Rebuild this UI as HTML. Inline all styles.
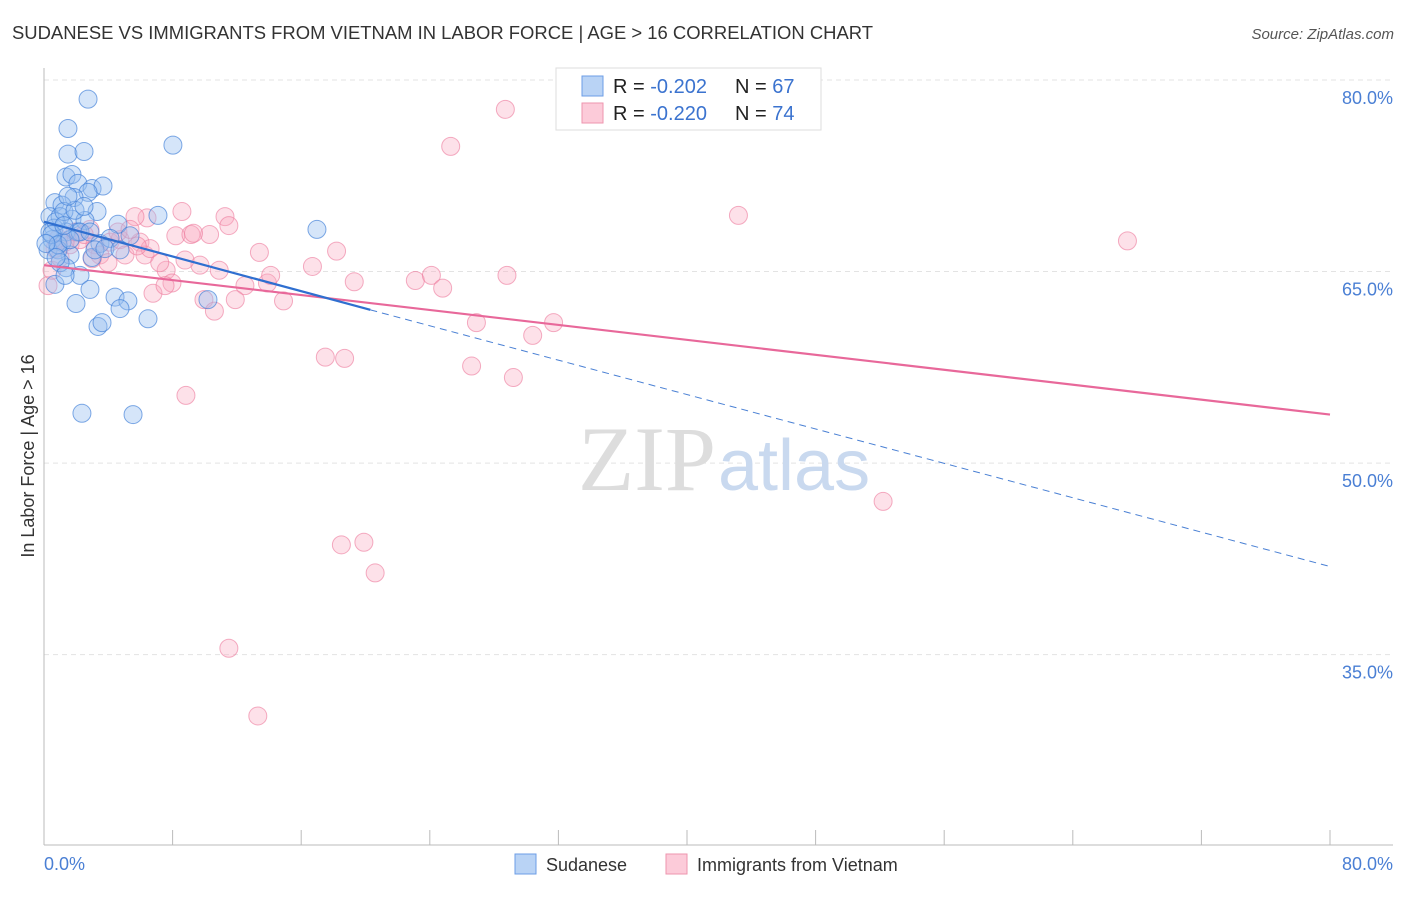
<!DOCTYPE html>
<html><head><meta charset="utf-8"><style>
body{margin:0;background:#fff;font-family:"Liberation Sans",sans-serif}
svg text{font-family:"Liberation Sans",sans-serif}
</style></head><body>
<svg id="chart" width="1406" height="892" xmlns="http://www.w3.org/2000/svg">
<text x="12" y="39" font-size="18" fill="#333" textLength="861" lengthAdjust="spacingAndGlyphs">SUDANESE VS IMMIGRANTS FROM VIETNAM IN LABOR FORCE | AGE &gt; 16 CORRELATION CHART</text>
<text x="1394" y="39" font-size="15" fill="#555" font-style="italic" text-anchor="end">Source: ZipAtlas.com</text>
<g id="grid"></g>
<text x="716" y="490" font-size="92" fill="#ddd" text-anchor="end" style="font-family:'Liberation Serif',serif">ZIP</text>
<text x="718" y="490" font-size="72" fill="#c9d9ef">atlas</text>
<g id="marks"></g>
<text transform="translate(34,456) rotate(-90)" font-size="18" fill="#333" text-anchor="middle">In Labor Force | Age &gt; 16</text>
<text x="44" y="870" font-size="18" fill="#4a7fd4">0.0%</text>
<text x="1393" y="870" font-size="18" fill="#4a7fd4" text-anchor="end">80.0%</text>
<g>
<rect x="556" y="68" width="265" height="62" fill="#fff" stroke="#ddd"/>
<rect x="582" y="76" width="21" height="20" fill="#b9d3f5" stroke="#6c9ee6"/>
<rect x="582" y="103" width="21" height="20" fill="#fccbd9" stroke="#ee95ae"/>
<text x="613" y="93" font-size="20" fill="#222">R = <tspan fill="#3b73cf">-0.202</tspan><tspan x="735">N = </tspan><tspan fill="#3b73cf">67</tspan></text>
<text x="613" y="120" font-size="20" fill="#222">R = <tspan fill="#3b73cf">-0.220</tspan><tspan x="735">N = </tspan><tspan fill="#3b73cf">74</tspan></text>
</g>
<g>
<rect x="515" y="854" width="21" height="20" fill="#b9d3f5" stroke="#6c9ee6"/>
<text x="546" y="871" font-size="18" fill="#333">Sudanese</text>
<rect x="666" y="854" width="21" height="20" fill="#fccbd9" stroke="#ee95ae"/>
<text x="697" y="871" font-size="18" fill="#333">Immigrants from Vietnam</text>
</g>
</svg>
<script>
const yTicks=[80,65,50,35];
const yTickLabels=["80.0%","65.0%","50.0%","35.0%"];
const xTicks=[0,8,16,24,32,40,48,56,64,72,80];
const blueX=[2.74,1.49,1.49,2.49,8.02,1.37,1.74,2.11,2.99,3.67,2.74,1.87,0.68,1.12,3.30,7.09,4.60,0.37,1.0,1.74,2.55,0.62,1.37,2.11,5.35,16.98,0.5,1.12,2.24,0.25,1.62,2.99,1.37,2.24,0.68,2.86,4.42,5.22,1.99,4.73,10.2,6.47,3.36,3.61,2.36,5.54,0.87,1.0,0.37,0.75,1.24,3.48,4.11,0.5,0.87,0.12,1.62,1.24,1.93,2.49,1.49,2.86,3.17,0.75,3.79,1.31,4.73];
const blueY=[78.5,76.2,74.2,74.4,74.9,72.4,72.6,71.9,71.5,71.7,71.2,70.8,70.4,70.2,69.7,69.4,68.7,69.3,69.3,69.1,69.0,68.4,68.1,68.1,67.8,68.3,67.5,67.3,68.1,66.7,66.3,66.1,65.3,64.7,64.0,63.6,63.0,62.7,62.5,62.1,62.8,61.3,60.7,61.0,53.9,53.8,66.7,65.7,68.1,68.9,69.7,67.2,67.6,67.9,67.1,67.2,67.5,68.6,69.8,70.1,70.9,68.1,66.7,66.1,66.8,64.7,66.7];
const pinkX=[28.7,25.3,43.2,67.4,8.58,6.41,5.66,11.26,11.5,8.2,9.14,10.3,13.4,18.2,16.7,9.7,10.9,7.6,7.96,6.78,7.53,12.5,11.9,9.95,10.6,14.9,13.9,14.1,19.3,23.1,24.1,24.8,28.8,26.9,31.7,30.4,17.5,18.7,26.6,29.2,8.83,52.2,18.5,19.9,20.6,11.5,13.3,0.25,0.5,1.0,1.62,2.24,3.17,3.48,4.1,4.73,5.04,5.97,6.28,7.2,4.6,2.86,3.98,1.31,1.93,5.35,6.6,8.77,0.68,2.5,3.0,5.8,9.3,0.9];
const pinkY=[77.7,74.8,69.4,67.4,69.7,69.2,69.3,69.3,68.6,67.8,67.9,67.9,66.5,66.6,65.4,65.5,65.1,65.1,64.1,63.3,63.9,63.9,62.8,62.8,61.9,62.7,64.1,64.7,64.2,64.3,64.7,63.7,64.7,61.0,61.0,60.0,58.3,58.2,57.6,56.7,55.3,47.0,43.6,43.8,41.4,35.5,30.2,63.9,65.1,66.1,67.1,67.5,67.1,66.3,67.3,67.5,66.3,67.3,66.3,65.7,68.1,68.3,65.7,67.3,68.1,68.3,66.8,65.9,66.8,67.9,66.0,67.0,68.0,67.6];
const blueTrend=[[0,68.9],[20.3,62.0],[80,41.9]];
const pinkTrend=[[0,65.5],[80,53.8]];
const X=v=>44+v/80*1286;
const Y=v=>80+(80-v)*12.77;
const NS="http://www.w3.org/2000/svg";
function mk(t,a,p){const e=document.createElementNS(NS,t);for(const k in a)e.setAttribute(k,a[k]);p.appendChild(e);return e;}
const grid=document.getElementById('grid');
const marks=document.getElementById('marks');
yTicks.forEach((t,i)=>{
 const l=mk('line',{x1:44,x2:1393,y1:Y(t),y2:Y(t),stroke:'#e3e3e3','stroke-dasharray':'5,4'},grid);
 
 
 const tx=mk('text',{x:1393,y:Y(t)+24,'font-size':18,fill:'#4a7fd4','text-anchor':'end'},grid);
 tx.textContent=yTickLabels[i];
 
 
});
const ya=mk('line',{x1:44,x2:44,y1:68,y2:845,stroke:'#bbb'},grid);


const xa=mk('line',{x1:44,x2:1393,y1:845,y2:845,stroke:'#bbb'},grid);


xTicks.forEach(t=>{
 const l=mk('line',{x1:X(t),x2:X(t),y1:830,y2:845,stroke:'#bbb'},grid);
 
 
});
pinkX.forEach((x,i)=>{
 const c=mk('circle',{cx:X(x),cy:Y(pinkY[i]),r:9,fill:'rgba(248,168,192,0.35)',stroke:'rgba(236,120,155,0.6)','stroke-width':1},marks);
 
 
});
blueX.forEach((x,i)=>{
 const c=mk('circle',{cx:X(x),cy:Y(blueY[i]),r:9,fill:'rgba(150,190,240,0.4)',stroke:'rgba(60,125,215,0.65)','stroke-width':1},marks);
 
 
});
const pl=mk('line',{x1:X(pinkTrend[0][0]),y1:Y(pinkTrend[0][1]),x2:X(pinkTrend[1][0]),y2:Y(pinkTrend[1][1]),stroke:'#e8689a','stroke-width':2.2},marks);


const bl=mk('line',{x1:X(blueTrend[0][0]),y1:Y(blueTrend[0][1]),x2:X(blueTrend[1][0]),y2:Y(blueTrend[1][1]),stroke:'#2f6fd0','stroke-width':2.2},marks);


const bd=mk('line',{x1:X(blueTrend[1][0]),y1:Y(blueTrend[1][1]),x2:X(blueTrend[2][0]),y2:Y(blueTrend[2][1]),stroke:'#4a80d4','stroke-width':1,'stroke-dasharray':'7,5'},marks);


</script>
</body></html>
